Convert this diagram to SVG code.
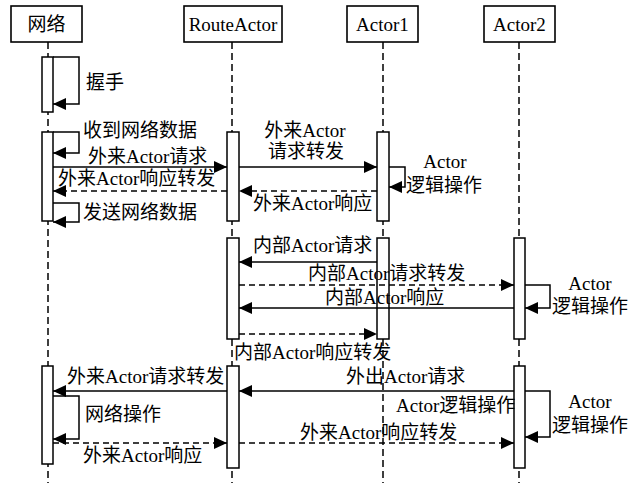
<svg xmlns="http://www.w3.org/2000/svg" width="638" height="483" viewBox="0 0 638 483">
<style>
.hdr{fill:#fff;stroke:#000;stroke-width:1.6}
.life{stroke:#000;stroke-width:1.5;stroke-dasharray:7 4;fill:none}
.act{fill:#fff;stroke:#000;stroke-width:1.5}
.msg{stroke:#000;stroke-width:1.5;fill:none;marker-end:url(#ah)}
.dash{stroke-dasharray:6 4}
.loop{stroke:#000;stroke-width:1.5;fill:none;marker-end:url(#ah)}
text{font-family:"Liberation Serif","Noto Sans CJK SC",serif;font-size:19px;fill:#000}
.m{text-anchor:middle}
</style>
<defs>
<marker id="ah" markerUnits="userSpaceOnUse" markerWidth="14" markerHeight="12" refX="13" refY="6" orient="auto">
<path d="M0,0 L13,6 L0,12 z" fill="#000"/>
</marker>
</defs>
<g id="lifelines">
<line class="life" x1="48" y1="42" x2="48" y2="483"/>
<line class="life" x1="232" y1="42" x2="232" y2="483"/>
<line class="life" x1="383" y1="42" x2="383" y2="483"/>
<line class="life" x1="519" y1="42" x2="519" y2="483"/>
</g>
<g id="node-net"><rect class="hdr" x="11" y="6" width="71" height="36"/><text class="m" x="46.5" y="31">网络</text></g>
<g id="node-route"><rect class="hdr" x="184" y="6" width="98" height="36"/><text class="m" x="233" y="31">RouteActor</text></g>
<g id="node-actor1"><rect class="hdr" x="347" y="6" width="71" height="36"/><text class="m" x="382.5" y="31">Actor1</text></g>
<g id="node-actor2"><rect class="hdr" x="484" y="6" width="71" height="36"/><text class="m" x="519.5" y="31">Actor2</text></g>
<g id="activations">
<rect class="act" x="42" y="57" width="11" height="55"/>
<rect class="act" x="42" y="132" width="11" height="89"/>
<rect class="act" x="227" y="132" width="12" height="89"/>
<rect class="act" x="377" y="132" width="12" height="89"/>
<rect class="act" x="227" y="238" width="12" height="101"/>
<rect class="act" x="377" y="238" width="12" height="101"/>
<rect class="act" x="514" y="238" width="11" height="101"/>
<rect class="act" x="42" y="366" width="11" height="98"/>
<rect class="act" x="227" y="366" width="12" height="102"/>
<rect class="act" x="514" y="366" width="11" height="102"/>
</g>
<g id="connectors">
<path class="loop" d="M53,57 H79 V104 H53"/>
<path class="loop" d="M53,132 H79 V153 H53"/>
<line class="msg" x1="53" y1="167" x2="227" y2="167"/>
<line class="msg dash" x1="227" y1="191" x2="53" y2="191"/>
<path class="loop" d="M53,203 H79 V222 H53"/>
<line class="msg" x1="239" y1="167" x2="377" y2="167"/>
<path class="loop" d="M389,167 H405 V187 H389"/>
<line class="msg dash" x1="377" y1="191" x2="239" y2="191"/>
<line class="msg" x1="377" y1="262" x2="239" y2="262"/>
<line class="msg dash" x1="239" y1="285" x2="514" y2="285"/>
<path class="loop" d="M525,285 H550 V308 H525"/>
<line class="msg" x1="514" y1="308" x2="239" y2="308"/>
<line class="msg dash" x1="239" y1="334" x2="377" y2="334"/>
<line class="msg" x1="514" y1="391" x2="239" y2="391"/>
<line class="msg" x1="227" y1="391" x2="53" y2="391"/>
<path class="loop" d="M525,391 H550 V437 H525"/>
<path class="loop" d="M53,396 H79 V439 H53"/>
<line class="msg dash" x1="53" y1="443" x2="227" y2="443"/>
<line class="msg dash" x1="239" y1="443" x2="514" y2="443"/>
</g>
<g id="labels">
<text x="86" y="89">握手</text>
<text x="83" y="137">收到网络数据</text>
<text x="88" y="163">外来Actor请求</text>
<text x="58" y="185">外来Actor响应转发</text>
<text x="83" y="219">发送网络数据</text>
<text class="m" x="305" y="137">外来Actor</text>
<text class="m" x="306" y="158">请求转发</text>
<text class="m" x="445" y="168">Actor</text>
<text class="m" x="444" y="192">逻辑操作</text>
<text x="253" y="210">外来Actor响应</text>
<text x="253" y="252">内部Actor请求</text>
<text x="308" y="280">内部Actor请求转发</text>
<text x="325" y="304">内部Actor响应</text>
<text class="m" x="590" y="290">Actor</text>
<text class="m" x="590" y="313">逻辑操作</text>
<text x="234" y="359">内部Actor响应转发</text>
<text x="67" y="383">外来Actor请求转发</text>
<text x="346" y="383">外出Actor请求</text>
<text x="396" y="412">Actor逻辑操作</text>
<text class="m" x="590" y="408">Actor</text>
<text class="m" x="590" y="432">逻辑操作</text>
<text x="85" y="421">网络操作</text>
<text x="83" y="462">外来Actor响应</text>
<text x="300" y="439">外来Actor响应转发</text>
</g>
</svg>
